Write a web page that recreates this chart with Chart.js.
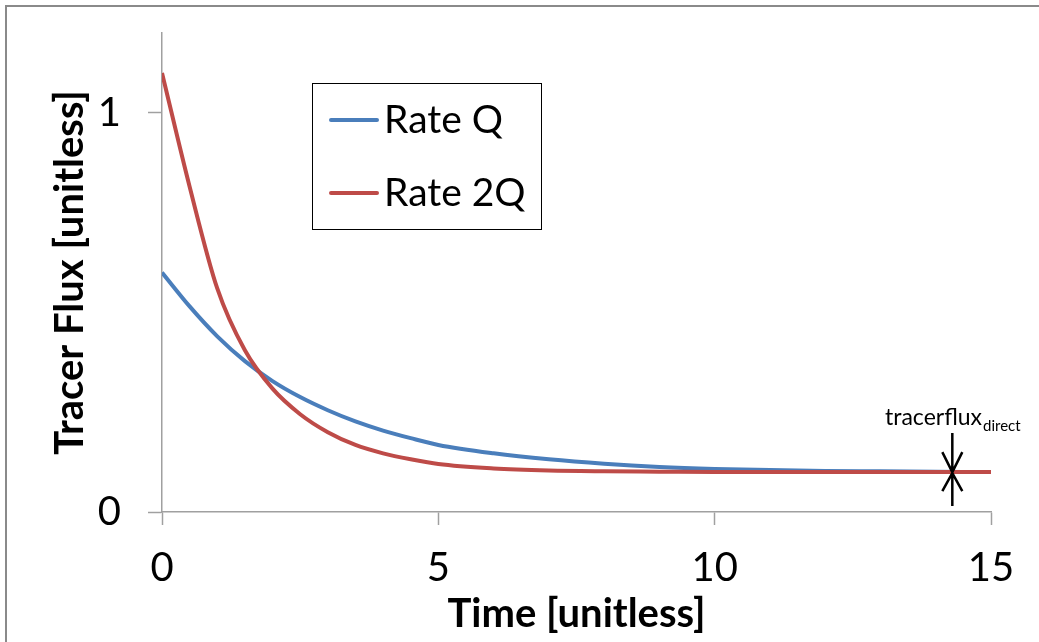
<!DOCTYPE html>
<html>
<head>
<meta charset="utf-8">
<script src="https://cdn.jsdelivr.net/npm/chart.js@4"></script>
<style>
    body { margin: 0; background: #fff; }
    #wrap { width: 1039px; height: 642px; position: relative; }
</style>
</head>
<body>
<div id="wrap"><canvas id="chart"></canvas></div>
<script>
const timeValues = [0, 0.5, 1, 1.5, 2, 2.5, 3, 3.5, 4, 4.5, 5, 6, 7, 8, 9, 10, 11, 12, 13, 14, 15]
const rateQ = [0.6, 0.515, 0.44, 0.378, 0.328, 0.288, 0.255, 0.227, 0.204, 0.185, 0.168, 0.147, 0.132, 0.121, 0.113, 0.108, 0.105, 0.103, 0.102, 0.101, 0.1]
const rate2Q = [1.1, 0.815, 0.56, 0.405, 0.309, 0.245, 0.2, 0.168, 0.147, 0.132, 0.12, 0.109, 0.104, 0.102, 0.101, 0.1, 0.1, 0.1, 0.1, 0.1, 0.1]
const yTicks = [0, 1]
const xTicks = [0, 5, 10, 15]
const directFlux = { x: 14.3, y: 0.1 }

const axisColor = '#a0a0a0'
const font = 'Lato'

const toPoints = (ys) => timeValues.map((t, i) => ({ x: t, y: ys[i] }))

// grey frame round the chart, cut at right and bottom like the picture
const framePlugin = {
    id: 'frame',
    beforeDraw(chart) {
        const ctx = chart.ctx
        ctx.save()
        ctx.strokeStyle = '#8a8a8a'
        ctx.lineWidth = 2
        ctx.strokeRect(6, 6, 2000, 2000)
        ctx.restore()
    }
}

// boxed legend and the tracerflux arrow
const extrasPlugin = {
    id: 'extras',
    afterDraw(chart) {
        const ctx = chart.ctx
        ctx.save()

        ctx.strokeStyle = '#000'
        ctx.lineWidth = 1
        ctx.strokeRect(312.5, 83.5, 229, 146)
        const rows = [chart.data.datasets[1], chart.data.datasets[0]]
        rows.forEach((ds, i) => {
            const y = 120 + i * 73
            ctx.strokeStyle = ds.borderColor
            ctx.lineWidth = 4
            ctx.lineCap = 'round'
            ctx.beginPath()
            ctx.moveTo(331, y)
            ctx.lineTo(377, y)
            ctx.stroke()
            ctx.fillStyle = '#000'
            ctx.font = `39px ${font}`
            ctx.textBaseline = 'middle'
            ctx.fillText(ds.label, 384, y)
        })

        const xs = chart.scales.x, ys = chart.scales.y
        const px = xs.getPixelForValue(directFlux.x)
        const py = ys.getPixelForValue(directFlux.y)
        ctx.strokeStyle = '#000'
        ctx.lineWidth = 2.5
        ctx.lineCap = 'butt'
        ctx.beginPath()
        ctx.moveTo(px, py - 39); ctx.lineTo(px, py + 34)
        ctx.moveTo(px - 10, py - 20); ctx.lineTo(px, py); ctx.lineTo(px + 10, py - 20)
        ctx.moveTo(px - 10, py + 19); ctx.lineTo(px, py + 1); ctx.lineTo(px + 10, py + 19)
        ctx.stroke()

        ctx.fillStyle = '#000'
        ctx.textBaseline = 'alphabetic'
        ctx.font = `23px ${font}`
        ctx.fillText('tracerflux', 885, 425)
        const w = ctx.measureText('tracerflux').width
        ctx.font = `15px ${font}`
        ctx.fillText('direct', 885 + w + 1, 431)
        ctx.restore()
    }
}

new Chart(document.getElementById('chart').getContext('2d'), {
    type: 'line',
    data: {
        datasets: [{
            label: 'Rate 2Q',
            data: toPoints(rate2Q),
            borderColor: '#be4b48',
            order: 0
        }, {
            label: 'Rate Q',
            data: toPoints(rateQ),
            borderColor: '#4a7ebb',
            order: 1
        }]
    },
    options: {
        responsive: true,
        maintainAspectRatio: false,
        devicePixelRatio: 1,
        animation: false,
        elements: {
            line: { borderWidth: 4, cubicInterpolationMode: 'monotone', fill: false },
            point: { radius: 0 }
        },
        layout: { padding: { left: 0, top: 33, right: 48, bottom: 0 } },
        plugins: {
            legend: { display: false },
            tooltip: { enabled: false }
        },
        scales: {
            x: {
                type: 'linear',
                min: 0,
                max: 15,
                afterBuildTicks: (s) => { s.ticks = xTicks.map(v => ({ value: v })) },
                afterFit: (s) => {
                    s.height = 130
                    s.paddingLeft = 0
                    s.paddingRight = 0
                },
                ticks: { color: '#000', font: { family: font, size: 40 }, padding: 19 },
                grid: { drawOnChartArea: false, color: axisColor, tickLength: 13, tickWidth: 1.5 },
                border: { color: axisColor, width: 1.5 },
                title: {
                    display: true,
                    text: 'Time [unitless]',
                    color: '#000',
                    font: { family: font, size: 40, weight: 'bold' },
                    padding: { top: 0, bottom: 4 }
                }
            },
            y: {
                min: 0,
                max: 1.2,
                afterBuildTicks: (s) => { s.ticks = yTicks.map(v => ({ value: v })) },
                afterFit: (s) => {
                    s.width = 162
                    s.paddingTop = 0
                    s.paddingBottom = 0
                },
                ticks: { color: '#000', font: { family: font, size: 40 }, padding: 27 },
                grid: { drawOnChartArea: false, color: axisColor, tickLength: 14, tickWidth: 1.5 },
                border: { color: axisColor, width: 1.5 },
                title: {
                    display: true,
                    text: 'Tracer Flux [unitless]',
                    color: '#000',
                    font: { family: font, size: 40, weight: 'bold' },
                    padding: { top: 46, bottom: 0 }
                }
            }
        }
    },
    plugins: [framePlugin, extrasPlugin]
})
</script>
</body>
</html>
